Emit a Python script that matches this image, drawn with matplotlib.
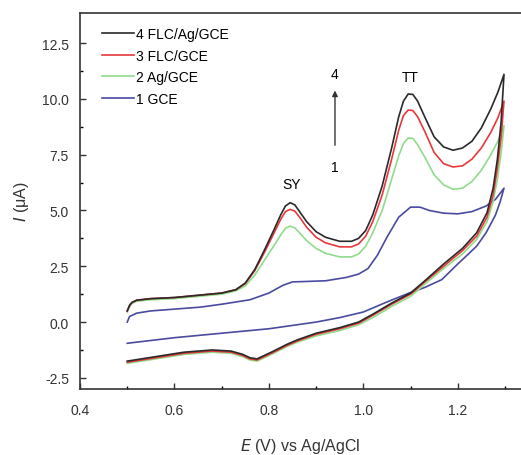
import matplotlib
matplotlib.use("Agg")
import matplotlib.pyplot as plt
import numpy as np

plt.rcParams['font.family'] = ['Liberation Sans', 'DejaVu Sans']
plt.rcParams['axes.unicode_minus'] = False

# forward scan (anodic), shared potentials
E_fwd = [0.50, 0.505, 0.51, 0.52, 0.55, 0.60, 0.65, 0.70, 0.73, 0.75,
         0.77, 0.79, 0.81, 0.825, 0.835, 0.845, 0.855, 0.865, 0.88, 0.90,
         0.92, 0.95, 0.975, 0.99, 1.005, 1.02, 1.04, 1.06, 1.075, 1.085,
         1.095, 1.105, 1.115, 1.13, 1.15, 1.17, 1.19, 1.21, 1.23, 1.25,
         1.27, 1.285, 1.298]
I4_fwd = [0.5, 0.75, 0.88, 0.98, 1.05, 1.1, 1.2, 1.3, 1.45, 1.75,
          2.35, 3.2, 4.1, 4.8, 5.2, 5.35, 5.25, 4.95, 4.5, 4.05,
          3.8, 3.62, 3.62, 3.75, 4.1, 4.8, 6.1, 7.8, 9.2, 9.9,
          10.22, 10.2, 9.9, 9.2, 8.3, 7.85, 7.7, 7.8, 8.1, 8.7,
          9.55, 10.3, 11.1]
I3_fwd = [0.5, 0.75, 0.88, 0.98, 1.05, 1.1, 1.2, 1.3, 1.45, 1.72,
          2.3, 3.1, 3.95, 4.6, 4.95, 5.05, 4.97, 4.7, 4.25, 3.8,
          3.55, 3.37, 3.37, 3.5, 3.85, 4.5, 5.7, 7.3, 8.6, 9.25,
          9.5, 9.48, 9.2, 8.55, 7.6, 7.1, 6.95, 7.0, 7.3, 7.8,
          8.5, 9.15, 9.9]
I2_fwd = [0.45, 0.7, 0.83, 0.93, 1.0, 1.05, 1.15, 1.25, 1.4, 1.62,
          2.1, 2.75, 3.4, 3.9, 4.2, 4.3, 4.22, 4.0, 3.65, 3.3,
          3.08, 2.92, 2.92, 3.05, 3.4, 4.0, 5.0, 6.4, 7.45, 8.0,
          8.25, 8.23, 7.95, 7.4, 6.6, 6.15, 5.95, 6.0, 6.3, 6.8,
          7.5, 8.1, 8.8]

# reverse scan (cathodic)
E_rev = [1.298, 1.292, 1.284, 1.275, 1.262, 1.24, 1.21, 1.17, 1.133, 1.10, 1.06, 1.02,
         0.99, 0.95, 0.90, 0.86, 0.838, 0.81, 0.795, 0.775, 0.76, 0.745, 0.72, 0.68,
         0.62, 0.56, 0.50]
I4_rev = [11.1, 9.0, 7.3, 6.0, 4.9, 4.0, 3.3, 2.6, 1.9, 1.3, 0.85, 0.35, 0.0, -0.25,
          -0.5, -0.8, -1.0, -1.3, -1.45, -1.65, -1.6, -1.45, -1.3, -1.25, -1.35,
          -1.55, -1.75]
I3_rev = [9.9, 8.3, 6.9, 5.7, 4.7, 3.85, 3.2, 2.5, 1.85, 1.25, 0.8, 0.3, -0.05, -0.3,
          -0.55, -0.85, -1.05, -1.35, -1.5, -1.7, -1.65, -1.5, -1.35, -1.3, -1.4,
          -1.6, -1.8]
I2_rev = [8.8, 7.6, 6.4, 5.4, 4.5, 3.7, 3.05, 2.4, 1.75, 1.15, 0.7, 0.2, -0.12, -0.38,
          -0.62, -0.9, -1.1, -1.4, -1.55, -1.75, -1.7, -1.55, -1.4, -1.35, -1.45,
          -1.65, -1.85]

# bare GCE
E1_fwd = [0.50, 0.505, 0.52, 0.55, 0.60, 0.655, 0.70, 0.76, 0.80, 0.83, 0.85, 0.88,
          0.92, 0.964, 0.99, 1.01, 1.03, 1.05, 1.075, 1.10, 1.12, 1.14, 1.17, 1.20,
          1.23, 1.26, 1.28, 1.298]
I1_fwd = [0.0, 0.25, 0.4, 0.5, 0.58, 0.67, 0.8, 1.0, 1.3, 1.65, 1.8, 1.82, 1.85, 2.0,
          2.15, 2.4, 3.0, 3.8, 4.7, 5.15, 5.15, 5.0, 4.88, 4.85, 4.95, 5.2, 5.5, 6.0]
E1_rev = [1.298, 1.29, 1.28, 1.26, 1.24, 1.20, 1.166, 1.13, 1.097, 1.05, 1.00, 0.95,
          0.90, 0.85, 0.80, 0.70, 0.60, 0.50]
I1_rev = [6.0, 5.4, 4.8, 4.0, 3.4, 2.6, 1.9, 1.55, 1.3, 0.9, 0.45, 0.2, 0.0, -0.15,
          -0.3, -0.5, -0.7, -0.95]

labels = ['4 FLC/Ag/GCE', '3 FLC/GCE', '2 Ag/GCE', '1 GCE']
colors = ['#2a2a2a', '#e8383c', '#8fdc8a', '#4a4aa0']

fig = plt.figure(figsize=(5.21, 4.56), dpi=100)
ax = fig.add_axes([0.1536, 0.1447, 0.8464, 0.8246])

curves = [(E_fwd, I4_fwd, E_rev, I4_rev),
          (E_fwd, I3_fwd, E_rev, I3_rev),
          (E_fwd, I2_fwd, E_rev, I2_rev),
          (E1_fwd, I1_fwd, E1_rev, I1_rev)]
# draw 1 first so 4 sits on top
for k in [3, 2, 1, 0]:
    ef, i_f, er, i_r = curves[k]
    e = np.concatenate([ef, er])
    i = np.concatenate([i_f, i_r])
    ax.plot(e, i, color=colors[k], lw=1.2, label=labels[k],
            solid_joinstyle='round')

h, l = ax.get_legend_handles_labels()
ax.legend(h[::-1], l[::-1], loc='upper left', bbox_to_anchor=(0.03, 0.985),
          frameon=False, fontsize=10, handlelength=2.3, handletextpad=0.15,
          labelspacing=0.55, borderaxespad=0.2)

ax.text(0.848, 6.2, 'SY', ha='center', va='center', fontsize=10)
ax.text(1.10, 11.0, 'TT', ha='center', va='center', fontsize=10)
ax.annotate('', xy=(0.94, 10.5), xytext=(0.94, 7.8),
            arrowprops=dict(arrowstyle='-|>', color='#333333', lw=1.0,
                            mutation_scale=8))
ax.text(0.94, 11.1, '4', ha='center', va='center', fontsize=10)
ax.text(0.94, 6.95, '1', ha='center', va='center', fontsize=10)

ax.set_xlim(0.4, 1.334)
ax.set_ylim(-3.0, 13.85)
ax.set_xticks([0.4, 0.6, 0.8, 1.0, 1.2])
ax.set_xticks(np.arange(0.5, 1.31, 0.2), minor=True)
ax.set_yticks([-2.5, 0.0, 2.5, 5.0, 7.5, 10.0, 12.5])
ax.set_yticks(np.arange(-1.25, 13.0, 2.5), minor=True)
ax.tick_params(direction='in', labelsize=10, length=4, width=1, colors='#333333',
               labelcolor='#333333')
ax.tick_params(axis='x', pad=10)
ax.tick_params(axis='y', pad=8)
ax.tick_params(which='minor', direction='in', length=2.5, width=1)
ax.spines['right'].set_visible(False)
for s in ['left', 'bottom', 'top']:
    ax.spines[s].set_color('#333333')
    ax.spines[s].set_linewidth(1.2)

ax.set_xlabel('$E$ (V) vs Ag/AgCl', fontsize=11.5, color='#333333', labelpad=14)
ax.set_ylabel('$I$ (μA)', fontsize=11.5, color='#333333', labelpad=8)

fig.savefig('out.png', dpi=100)
